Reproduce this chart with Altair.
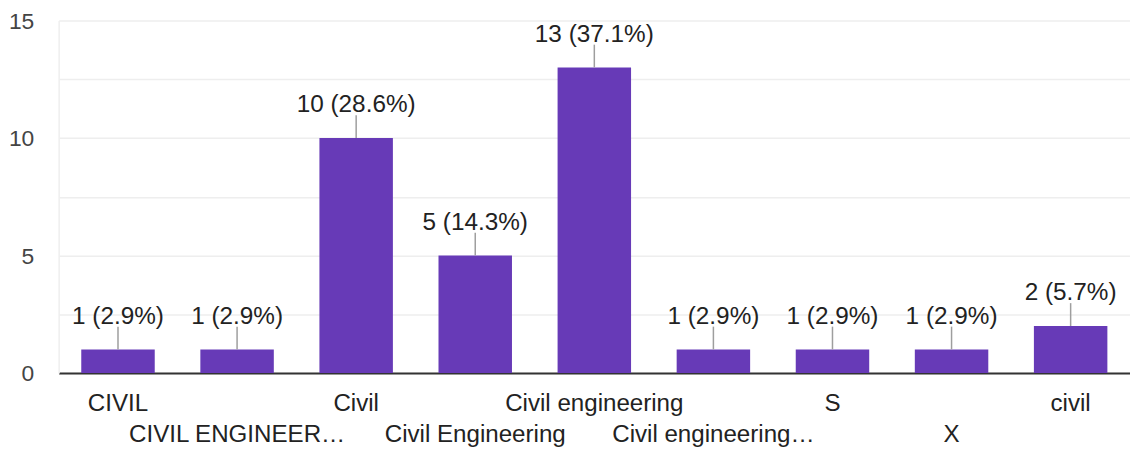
import altair as alt
import pandas as pd

categories = ["CIVIL", "CIVIL ENGINEER…", "Civil", "Civil Engineering", "Civil engineering",
              "Civil engineering…", "S", "X", "civil"]
counts = [1, 1, 10, 5, 13, 1, 1, 1, 2]
total = sum(counts)
labels = [f"{c} ({c / total * 100:.1f}%)" for c in counts]
row_two = categories[1::2]

df = pd.DataFrame({"cat": categories, "value": counts, "label": labels})

FONT = "Liberation Sans"
test_expr = "indexof(" + str(row_two) + ", datum.value) >= 0"

x = alt.X("cat:N", sort=categories, title=None,
          scale=alt.Scale(paddingInner=0.383, paddingOuter=0.19),
          axis=alt.Axis(labelAngle=0, labelOverlap=False, labelLimit=0, ticks=False,
                        domainColor="#333333", domainWidth=2, labelFont=FONT, labelFontSize=24.3,
                        labelColor="#222222", labelBaseline="middle",
                        labelPadding={"condition": {"test": test_expr, "value": 62}, "value": 31}))
y = alt.Y("value:Q", title=None,
          scale=alt.Scale(domain=[0, 15], nice=False),
          axis=alt.Axis(values=[0, 2.5, 5, 7.5, 10, 12.5, 15],
                        labelExpr="datum.value % 5 == 0 ? datum.label : ''",
                        ticks=False, domainColor="#eeeeee", domainWidth=1.5,
                        gridColor="#eeeeee", gridWidth=1.5, labelFont=FONT, labelFontSize=23,
                        labelColor="#444444", labelPadding=25, labelOffset=1))

base = alt.Chart(df)
bars = base.mark_bar(color="#673ab7").encode(x=x, y=y)
rules = base.mark_rule(color="#9e9e9e", strokeWidth=1.5, y2Offset=-23).encode(
    x=alt.X("cat:N", sort=categories), y=alt.Y("value:Q"), y2=alt.Y2("value"))
texts = base.mark_text(dy=-33, baseline="middle", font=FONT, fontSize=24.5, color="#222222").encode(
    x=alt.X("cat:N", sort=categories), y=alt.Y("value:Q"), text="label:N")

chart = alt.layer(bars, rules, texts).properties(
    width=1079, height=355,
    autosize=alt.AutoSizeParams(type="none"),
    padding={"left": 51, "top": 11, "right": 0, "bottom": 76},
).configure_view(stroke=None)

chart.save("out.html", embed_options={"renderer": "svg", "actions": False})
